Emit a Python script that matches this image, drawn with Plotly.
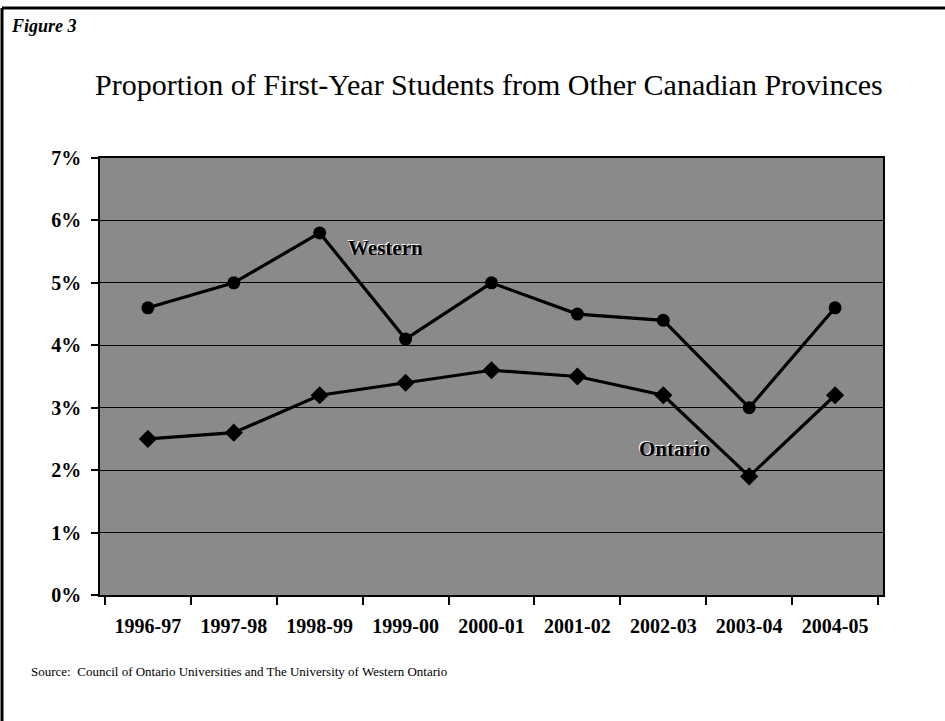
import plotly.graph_objects as go

years = ["1996-97", "1997-98", "1998-99", "1999-00", "2000-01",
         "2001-02", "2002-03", "2003-04", "2004-05"]
western = [0.046, 0.050, 0.058, 0.041, 0.050, 0.045, 0.044, 0.030, 0.046]
ontario = [0.025, 0.026, 0.032, 0.034, 0.036, 0.035, 0.032, 0.019, 0.032]

W, H = 945, 721
L, R, T, B = 100, 62, 158, 126
pw, ph = W - L - R, H - T - B

def px(x):
    return (x - L) / pw

def py(y):
    return (H - B - y) / ph

serif = "Liberation Serif, Times New Roman, serif"

fig = go.Figure()
fig.add_trace(go.Scatter(
    x=years, y=western, mode="lines+markers", name="Western",
    line=dict(color="black", width=3.2),
    marker=dict(symbol="circle", size=13, color="black"),
    showlegend=False))
fig.add_trace(go.Scatter(
    x=years, y=ontario, mode="lines+markers", name="Ontario",
    line=dict(color="black", width=3.2),
    marker=dict(symbol="diamond", size=14, color="black"),
    showlegend=False))

fig.update_layout(
    width=W, height=H,
    margin=dict(l=L, r=R, t=T, b=B),
    paper_bgcolor="white",
    plot_bgcolor="#8a8a8a",
    font=dict(family=serif, color="black"),
    xaxis=dict(
        type="category", tickson="boundaries", ticks="outside", ticklen=8,
        tickcolor="black", tickwidth=1.5,
        showline=True, linecolor="black", linewidth=1.5, mirror=True,
        showgrid=False,
        tickfont=dict(family=serif, size=20, color="black", weight="bold"),
        ticklabelstandoff=12,
    ),
    yaxis=dict(
        range=[0, 0.07], dtick=0.01, tickformat=".0%",
        ticks="outside", ticklen=7, tickcolor="black", tickwidth=1.5,
        showline=True, linecolor="black", linewidth=1.5, mirror=True,
        showgrid=True, gridcolor="black", gridwidth=1,
        zeroline=False,
        tickfont=dict(family=serif, size=20, color="black", weight="bold"),
        ticklabelstandoff=6,
    ),
)

annotations = [
    dict(text="Proportion of First-Year Students from Other Canadian Provinces",
         xref="paper", yref="paper", x=px(489), y=py(85),
         xanchor="center", yanchor="middle", showarrow=False,
         font=dict(family=serif, size=30, color="black")),
    dict(text="<b><i>Figure 3</i></b>",
         xref="paper", yref="paper", x=px(9), y=py(26),
         xanchor="left", yanchor="middle", showarrow=False,
         font=dict(family=serif, size=18, color="black")),
    dict(text="Source:  Council of Ontario Universities and The University of Western Ontario",
         xref="paper", yref="paper", x=px(29), y=py(671),
         xanchor="left", yanchor="middle", showarrow=False,
         font=dict(family=serif, size=13, color="black")),
    dict(text="<b>Western</b>", xref="x", yref="y", x=2.77, y=0.0556,
         xanchor="center", yanchor="middle", showarrow=False,
         font=dict(family=serif, size=21, color="black",
                   shadow="-1px -1px 0px white")),
    dict(text="<b>Ontario</b>", xref="x", yref="y", x=6.13, y=0.0234,
         xanchor="center", yanchor="middle", showarrow=False,
         font=dict(family=serif, size=21, color="black",
                   shadow="-1px -1px 0px white")),
]
fig.update_layout(annotations=annotations)

fig.update_layout(shapes=[
    dict(type="line", xref="paper", yref="paper",
         x0=px(2), x1=px(W + 5), y0=py(8), y1=py(8),
         line=dict(color="black", width=3)),
    dict(type="line", xref="paper", yref="paper",
         x0=px(2), x1=px(2), y0=py(8), y1=py(H + 5),
         line=dict(color="black", width=3)),
])

fig.write_html("out.html",
               config={"displayModeBar": False},
               post_script="document.body.style.margin='0';"
                           "document.body.style.overflow='hidden';")
